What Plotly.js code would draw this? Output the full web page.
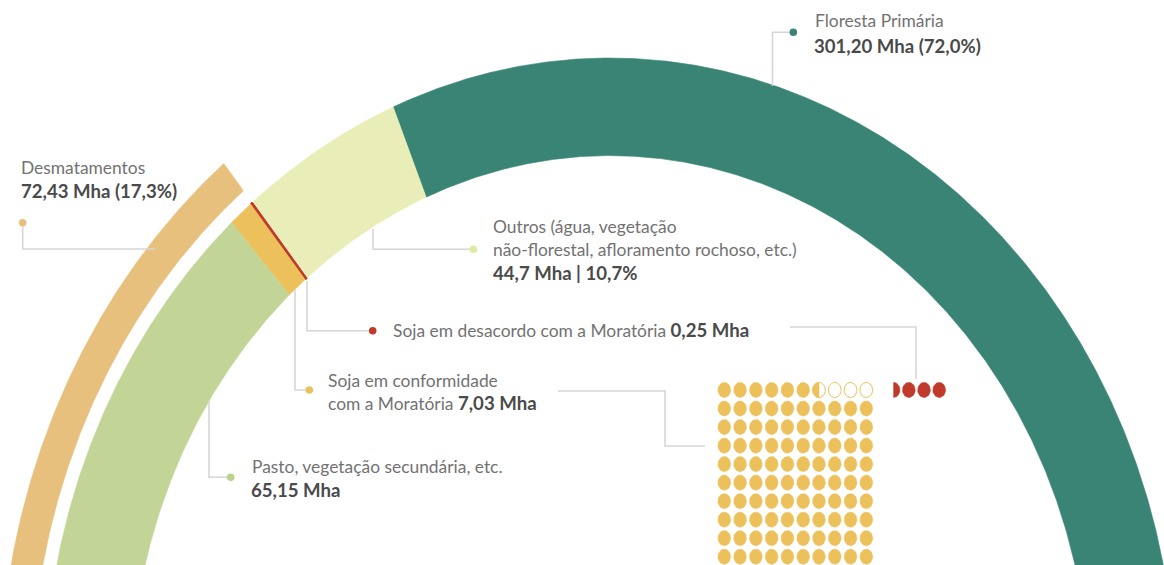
<!DOCTYPE html>
<html><head><meta charset="utf-8">
<script src="https://cdn.plot.ly/plotly-3.0.1.min.js"></script>
<style>html,body{margin:0;padding:0;background:#fff;}#chart{width:1164px;height:565px;}</style>
</head><body><div id="chart"></div>
<script>
// ---------------- DATA ----------------
const categories = ['Floresta Primária', 'Outros', 'Soja em desacordo com a Moratória', 'Soja em conformidade com a Moratória', 'Pasto, vegetação secundária, etc.'];
const valuesMha = [301.20, 44.7, 0.25, 7.03, 65.15];
const valueDecimals = [2, 1, 2, 2, 2];
const sharesPct = [72.0, 10.7, null, null, null];
const deforestationMha = 72.43;
const deforestationPct = 17.3;
const segmentColors = ['#3a8475', '#e9eeb8', '#c0392b', '#ecc15c', '#c2d597'];
const deforestationColor = '#e6c07c';
const waffleCompliantDots = 96.5;
const waffleNonCompliantDots = 3.5;
const waffleGridCells = 100;

// ---------------- LAYOUT GEOMETRY ----------------
const W = 1164, H = 565;
const px = x => x / W, py = y => 1 - y / H;
const CX = 610, CY = 700, RX = 566, RY = 642;
const R_IN = 0.848, R_OUT = 1.0, BAND_IN = 1.024, BAND_OUT = 1.079;
const DEG_PER_MHA = 0.3736;
const WAF_X0 = 724.3, WAF_DX = 15.78, WAF_Y0 = 390, WAF_DY = 18.52, WAF_COLS = 10;
const DOT_RX = 0.405, DOT_RY = 0.41;
const RED_COL0 = 10.73, RED_STEP = 0.963;
const GOLD = '#ecc15c', RED = '#c0392b', LINE = '#d6d6d6';
const TXT = '#727272', TXTB = '#4a4a4a', FONT = 'Lato, sans-serif', FS = 17.4, FSB = 18.6;

const fmt = (v, d) => v.toFixed(d).replace('.', ',');

function arc(r0, r1, a0, a1) {
  const xs = [], ys = [];
  const n = Math.max(2, Math.ceil(Math.abs(a1 - a0) / 0.2));
  for (let i = 0; i <= n; i++) { const a = (a0 + (a1 - a0) * i / n) * Math.PI / 180; xs.push(r1 * Math.cos(a)); ys.push(r1 * Math.sin(a)); }
  for (let i = n; i >= 0; i--) { const a = (a0 + (a1 - a0) * i / n) * Math.PI / 180; xs.push(r0 * Math.cos(a)); ys.push(r0 * Math.sin(a)); }
  xs.push(xs[0]); ys.push(ys[0]);
  return { xs, ys };
}

const traces = [];
let cum = 0;
const bounds = [];
valuesMha.forEach((v, i) => {
  const a0 = cum * DEG_PER_MHA;
  cum += v;
  const a1 = (i === valuesMha.length - 1) ? 180 : cum * DEG_PER_MHA;
  bounds.push([a0, a1]);
  const p = arc(R_IN, R_OUT, a0, a1);
  traces.push({ type: 'scatter', mode: 'lines', x: p.xs, y: p.ys, fill: 'toself', fillcolor: segmentColors[i],
    line: { color: segmentColors[i], width: i === 2 ? 1.6 : 0.6 }, hoverinfo: 'skip', showlegend: false, name: categories[i] });
});
{
  const p = arc(R_IN, R_OUT, bounds[2][0], bounds[2][1]);
  traces.push({ type: 'scatter', mode: 'lines', x: p.xs, y: p.ys, fill: 'toself', fillcolor: segmentColors[2],
    line: { color: segmentColors[2], width: 1.6 }, hoverinfo: 'skip', showlegend: false });
}
{
  const startA = bounds[2][0];
  const p = arc(BAND_IN, BAND_OUT, startA, 180);
  traces.push({ type: 'scatter', mode: 'lines', x: p.xs, y: p.ys, fill: 'toself', fillcolor: deforestationColor,
    line: { color: deforestationColor, width: 0.5 }, hoverinfo: 'skip', showlegend: false, name: 'Desmatamentos' });
}

// ---------------- WAFFLE ----------------
function ellipse(cx, cy, half) {
  const xs = [], ys = [];
  let t0 = 0, t1 = 360;
  if (half === 'left') { t0 = 90; t1 = 270; }
  if (half === 'right') { t0 = -90; t1 = 90; }
  for (let t = t0; t <= t1 + 1e-9; t += 10) { const a = t * Math.PI / 180; xs.push(cx + DOT_RX * Math.cos(a)); ys.push(cy - DOT_RY * Math.sin(a)); }
  xs.push(xs[0]); ys.push(ys[0]);
  return { xs, ys };
}
const goldX = [], goldY = [], outX = [], outY = [];
const rows = waffleGridCells / WAF_COLS;
for (let k = 0; k < waffleGridCells; k++) {
  const row = rows - 1 - Math.floor(k / WAF_COLS);
  const col = k % WAF_COLS;
  const filled = Math.min(1, Math.max(0, waffleCompliantDots - k));
  if (filled < 1) { const e = ellipse(col, row, null); outX.push(...e.xs, null); outY.push(...e.ys, null); }
  if (filled > 0) { const e = ellipse(col, row, filled < 1 ? 'left' : null); goldX.push(...e.xs, null); goldY.push(...e.ys, null); }
}
traces.push({ type: 'scatter', mode: 'lines', xaxis: 'x2', yaxis: 'y2', x: outX, y: outY, fill: 'toself', fillcolor: '#ffffff',
  line: { color: GOLD, width: 1 }, hoverinfo: 'skip', showlegend: false });
traces.push({ type: 'scatter', mode: 'lines', xaxis: 'x2', yaxis: 'y2', x: goldX, y: goldY, fill: 'toself', fillcolor: GOLD,
  line: { color: GOLD, width: 0.5 }, hoverinfo: 'skip', showlegend: false });
const redX = [], redY = [];
const redSlots = Math.ceil(waffleNonCompliantDots);
const redFrac = waffleNonCompliantDots - Math.floor(waffleNonCompliantDots);
for (let s = 0; s < redSlots; s++) {
  const partial = (s === 0 && redFrac > 0) ? 'right' : null;
  const e = ellipse(RED_COL0 + s * RED_STEP, 0, partial);
  redX.push(...e.xs, null); redY.push(...e.ys, null);
}
traces.push({ type: 'scatter', mode: 'lines', xaxis: 'x2', yaxis: 'y2', x: redX, y: redY, fill: 'toself', fillcolor: RED,
  line: { color: RED, width: 0.5 }, hoverinfo: 'skip', showlegend: false });

// ---------------- LABELS & LEADERS ----------------
const shapes = [];
function poly(pts) {
  const d = pts.map((p, i) => (i ? 'L' : 'M') + px(p[0]).toFixed(5) + ',' + py(p[1]).toFixed(5)).join(' ');
  shapes.push({ type: 'path', xref: 'paper', yref: 'paper', path: d, line: { color: LINE, width: 1.6 }, fillcolor: 'rgba(0,0,0,0)' });
}
function dot(x, y, c, r) {
  r = r || 3.8;
  shapes.push({ type: 'circle', xref: 'paper', yref: 'paper', x0: px(x - r), x1: px(x + r), y0: py(y + r), y1: py(y - r), fillcolor: c, line: { width: 0 } });
}
const annotations = [];
function label(x, baseline, text, size, color) {
  size = size || FS;
  annotations.push({ xref: 'paper', yref: 'paper', x: px(x), y: py(baseline - 0.39 * size), xanchor: 'left', yanchor: 'middle',
    text: text, showarrow: false, font: { family: FONT, size: size, color: color || TXT }, borderpad: 0 });
}
const B = s => '<span style="color:' + TXTB + ';font-size:' + FSB + 'px"><b>' + s + '</b></span>';
const BL = s => '<b>' + s + '</b>';

// Floresta
poly([[772.5, 86], [772.5, 32.3], [790, 32.3]]); dot(793.3, 32.3, segmentColors[0]);
label(814, 27.3, categories[0]);
label(813, 53.3, BL(fmt(valuesMha[0], valueDecimals[0]) + ' Mha (' + fmt(sharesPct[0], 1) + '%)'), FSB, TXTB);
// Desmatamentos
poly([[22.7, 222.7], [22.7, 249], [155, 249]]); dot(22.7, 222.7, deforestationColor);
label(20, 174, 'Desmatamentos');
label(19.5, 198.5, BL(fmt(deforestationMha, 2) + ' Mha (' + fmt(deforestationPct, 1) + '%)'), FSB, TXTB);
// Outros
poly([[373, 229], [373, 249.3], [470, 249.3]]); dot(473.3, 249.3, '#e2e8a6');
label(492, 233.3, 'Outros (água, vegetação');
label(492, 256.7, 'não-florestal, afloramento rochoso, etc.)');
label(492, 280, BL(fmt(valuesMha[1], valueDecimals[1]) + ' Mha | ' + fmt(sharesPct[1], 1) + '%'), FSB, TXTB);
// Soja desacordo
poly([[307, 281], [307, 330.7], [369, 330.7]]); dot(372.7, 330.7, RED);
label(391.5, 337, categories[2] + ' ' + B(fmt(valuesMha[2], valueDecimals[2]) + ' Mha'));
poly([[790, 327], [916, 327], [916, 379]]);
// Soja conformidade
poly([[295, 289], [295, 390], [306, 390]]); dot(309.3, 390, GOLD);
label(327, 387.3, 'Soja em conformidade');
label(327, 410, 'com a Moratória ' + B(fmt(valuesMha[3], valueDecimals[3]) + ' Mha'));
poly([[558, 391], [665, 391], [665, 446], [705, 446]]);
// Pasto
poly([[209, 401], [209, 477.3], [227, 477.3]]); dot(230.7, 477.3, '#bcd18b');
label(250.5, 473.3, categories[4]);
label(250, 497.3, BL(fmt(valuesMha[4], valueDecimals[4]) + ' Mha'), FSB, TXTB);

const layout = {
  width: W, height: H, margin: { l: 0, r: 0, t: 0, b: 0 }, paper_bgcolor: '#fff', plot_bgcolor: '#fff',
  showlegend: false, hovermode: false,
  xaxis: { range: [-CX / RX, (W - CX) / RX], visible: false, fixedrange: true },
  yaxis: { range: [(CY - H) / RY, CY / RY], visible: false, fixedrange: true },
  xaxis2: { range: [-WAF_X0 / WAF_DX, (W - WAF_X0) / WAF_DX], overlaying: 'x', visible: false, fixedrange: true },
  yaxis2: { range: [(H - WAF_Y0) / WAF_DY, -WAF_Y0 / WAF_DY], overlaying: 'y', visible: false, fixedrange: true },
  shapes: shapes, annotations: annotations
};
Plotly.newPlot('chart', traces, layout, { displayModeBar: false, staticPlot: true });
</script></body></html>
